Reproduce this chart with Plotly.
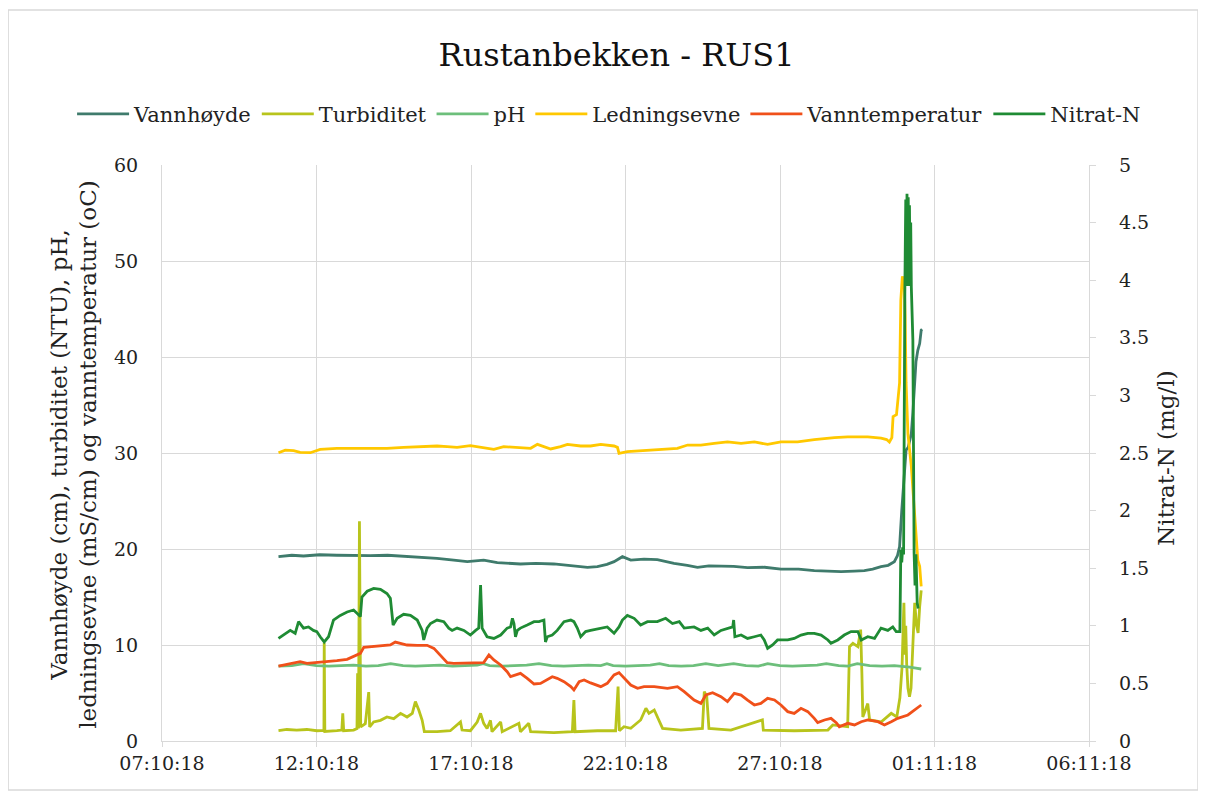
import pandas as pd
import plotly.graph_objects as go

# Time values are given as fractional day-of-October (32.0 = 1 Nov 00:00)
t_vann = [10.77, 11.2, 11.58, 12.1, 12.66, 13.2, 13.74, 14.3, 14.82, 15.36, 15.9, 16.44, 16.88, 17.41,
          17.85, 18.6, 19.1, 19.68, 20.44, 20.77, 21.09, 21.4, 21.63, 21.9, 22.17, 22.6, 23.03, 23.57,
          24.0, 24.33, 24.7, 25.09, 25.5, 25.95, 26.5, 27.03, 27.6, 28.11, 28.5, 28.98, 29.4, 29.73,
          30.0, 30.27, 30.5, 30.7, 30.8, 30.87, 30.94, 31.0, 31.05, 31.08, 31.15, 31.25, 31.3, 31.35,
          31.4, 31.46, 31.52, 31.57, 31.6]
v_vann = [19.2, 19.35, 19.27, 19.4, 19.35, 19.3, 19.3, 19.35, 19.25, 19.2, 19.03, 18.85, 18.68, 18.85,
          18.58, 18.44, 18.5, 18.44, 18.23, 18.09, 18.16, 18.4, 18.68, 19.2, 18.85, 18.95, 18.9, 18.5,
          18.3, 18.09, 18.25, 18.23, 18.2, 18.05, 18.1, 17.9, 17.9, 17.74, 17.7, 17.64, 17.7, 17.74,
          17.9, 18.16, 18.3, 18.68, 19.3, 20.24, 24.0, 26.5, 29.0, 30.3, 30.6, 32.0, 34.2, 37.5,
          39.5, 40.7, 41.4, 42.8, 42.9]

t_turb = [10.77, 11.04, 11.36, 11.69, 12.01, 12.18, 12.24, 12.25, 12.27, 12.66, 12.82, 12.85, 12.88,
          13.2, 13.31, 13.33, 13.36, 13.39, 13.43, 13.58, 13.69, 13.72, 13.85, 14.07, 14.28, 14.5,
          14.72, 14.93, 15.1, 15.2, 15.31, 15.42, 15.49, 15.9, 16.33, 16.66, 16.71, 16.98, 17.2, 17.31,
          17.41, 17.52, 17.63, 17.68, 17.96, 18.01, 18.55, 18.6, 18.87, 18.93, 19.68, 20.28, 20.33,
          20.37, 20.87, 21.09, 21.68, 21.76, 21.8, 21.95, 22.17, 22.49, 22.66, 22.76, 22.93, 23.09,
          23.2, 23.79, 24.49, 24.55, 24.63, 24.7, 25.41, 26.43, 26.46, 27.46, 28.55, 28.71, 29.19,
          29.25, 29.36, 29.52, 29.61, 29.65, 29.68, 29.84, 29.9, 30.27, 30.6, 30.78, 30.88, 30.95,
          30.98, 31.01, 31.04, 31.07, 31.1, 31.14, 31.19, 31.24, 31.3, 31.36, 31.42, 31.47, 31.52, 31.57]
v_turb = [1.07, 1.2, 1.14, 1.2, 1.07, 1.14, 1.1, 10.2, 1.0, 1.07, 1.14, 2.88, 1.07,
          1.14, 1.3, 7.05, 1.3, 22.9, 1.46, 1.8, 5.1, 1.46, 1.98, 2.15, 2.5, 2.33,
          2.88, 2.5, 2.88, 4.1, 3.23, 2.15, 0.97, 0.97, 1.07, 1.98, 1.14, 1.07, 1.98, 2.88,
          1.84, 1.3, 2.15, 0.97, 1.98, 0.97, 1.84, 0.97, 1.84, 0.97, 0.87, 0.97, 4.27,
          0.97, 1.07, 1.07, 1.07, 5.66, 1.07, 1.49, 1.32, 2.19, 3.4, 2.88, 3.23, 2.19,
          1.32, 1.14, 1.32, 5.14, 4.62, 1.32, 1.14, 2.19, 1.14, 1.07, 1.14, 1.67, 1.49,
          9.83, 10.17, 9.83, 11.6, 7.05, 2.5, 3.9, 2.19, 1.98, 2.88, 2.5, 4.5, 7.7,
          11.5, 14.4, 9.0, 12.0, 8.0, 5.5, 4.6, 5.5, 10.0, 14.4, 12.0, 11.25, 14.0, 15.7]

t_ph = [10.77, 11.2, 11.58, 12.0, 12.4, 12.8, 13.2, 13.6, 14.0, 14.4, 14.8, 15.2, 15.6, 16.0, 16.4,
        16.8, 17.2, 17.4, 17.6, 18.0, 18.4, 18.8, 19.2, 19.6, 20.0, 20.4, 20.8, 21.2, 21.4, 21.6,
        22.0, 22.4, 22.8, 23.1, 23.4, 23.8, 24.2, 24.6, 25.0, 25.5, 25.9, 26.3, 26.6, 27.0, 27.4,
        27.8, 28.2, 28.5, 28.9, 29.2, 29.5, 29.9, 30.3, 30.7, 31.0, 31.2, 31.4, 31.57]
v_ph = [7.8, 7.85, 8.05, 7.85, 7.8, 7.85, 7.9, 7.8, 7.85, 8.05, 7.85, 7.8, 7.85, 7.9, 7.8,
        7.85, 7.9, 8.05, 7.85, 7.8, 7.85, 7.9, 8.05, 7.85, 7.8, 7.85, 7.9, 7.85, 8.05, 7.85,
        7.8, 7.85, 7.9, 8.05, 7.85, 7.8, 7.85, 8.05, 7.85, 8.05, 7.85, 7.8, 8.05, 7.85, 7.8,
        7.85, 7.9, 8.05, 7.85, 7.8, 8.05, 7.85, 7.8, 7.85, 7.8, 7.7, 7.6, 7.5]

t_led = [10.77, 10.99, 11.26, 11.47, 11.8, 12.12, 12.66, 13.2, 13.74, 14.28, 14.82, 15.36, 15.9,
         16.23, 16.55, 16.98, 17.41, 17.74, 18.06, 18.5, 18.93, 19.15, 19.36, 19.58, 19.9, 20.12,
         20.55, 20.87, 21.2, 21.63, 21.74, 21.79, 22.06, 22.71, 23.25, 23.68, 24.01, 24.44, 24.87,
         25.3, 25.74, 26.17, 26.6, 27.03, 27.57, 28.11, 28.76, 29.19, 29.84, 30.27, 30.45, 30.54,
         30.62, 30.66, 30.77, 30.87, 30.91, 30.96, 31.02, 31.05, 31.08, 31.14, 31.25, 31.35, 31.46,
         31.52, 31.57]
v_led = [30.03, 30.3, 30.24, 30.07, 30.03, 30.38, 30.49, 30.49, 30.49, 30.49, 30.59, 30.66, 30.73,
         30.66, 30.59, 30.76, 30.59, 30.38, 30.66, 30.59, 30.49, 30.9, 30.66, 30.42, 30.66, 30.9,
         30.73, 30.73, 30.9, 30.73, 30.59, 29.97, 30.14, 30.3, 30.38, 30.49, 30.83, 30.83, 31.0,
         31.15, 31.0, 31.15, 30.9, 31.15, 31.15, 31.4, 31.6, 31.67, 31.67, 31.55, 31.4, 31.15,
         31.6, 33.8, 34.0, 37.3, 45.9, 48.4, 47.7, 44.2, 37.3, 32.0, 28.6, 23.4, 18.85,
         18.2, 16.1]

t_temp = [10.77, 11.15, 11.47, 11.69, 12.01, 12.34, 12.66, 12.99, 13.2, 13.42, 13.53, 13.85, 14.17,
          14.39, 14.55, 14.72, 14.93, 15.26, 15.58, 15.8, 16.01, 16.23, 16.44, 16.98, 17.41, 17.58,
          17.74, 17.96, 18.17, 18.28, 18.44, 18.6, 18.82, 19.04, 19.25, 19.47, 19.63, 19.79, 20.01,
          20.23, 20.33, 20.5, 20.66, 20.87, 21.2, 21.41, 21.63, 21.79, 21.95, 22.17, 22.39, 22.6,
          22.93, 23.36, 23.68, 23.9, 24.22, 24.44, 24.6, 24.82, 25.09, 25.3, 25.52, 25.74, 25.95,
          26.17, 26.38, 26.6, 26.82, 27.03, 27.25, 27.46, 27.68, 27.9, 28.11, 28.22, 28.44, 28.65,
          28.82, 28.92, 29.19, 29.41, 29.63, 29.84, 30.17, 30.38, 30.6, 30.81, 31.14, 31.35, 31.57]
v_temp = [7.81, 8.02, 8.26, 8.09, 8.16, 8.26, 8.37, 8.51, 8.85, 9.13, 9.76, 9.83, 9.9,
          10.0, 10.31, 10.17, 10.0, 9.97, 9.97, 9.65, 8.96, 8.16, 8.09, 8.16, 8.16, 8.96,
          8.44, 7.92, 7.22, 6.7, 6.88, 7.05, 6.53, 5.94, 6.0, 6.42, 6.7, 6.53, 6.18,
          5.66, 5.31, 6.18, 6.35, 6.05, 5.66, 6.01, 6.88, 7.12, 6.53, 5.83, 5.49, 5.66,
          5.66, 5.49, 5.66, 5.14, 4.27, 3.92, 4.79, 5.03, 4.62, 4.1, 4.97, 4.79, 4.27,
          3.75, 3.92, 4.44, 4.27, 3.75, 3.06, 2.88, 3.4, 3.06, 2.36, 1.91, 2.19, 2.36,
          1.91, 1.49, 1.84, 1.67, 2.01, 2.19, 2.01, 1.67, 2.01, 2.36, 2.71, 3.23, 3.75]

t_nitrat = [10.77, 10.93, 11.15, 11.31, 11.42, 11.58, 11.74, 11.9, 12.01, 12.12, 12.25, 12.39, 12.55,
            12.77, 12.99, 13.2, 13.36, 13.42, 13.47, 13.64, 13.85, 14.07, 14.28, 14.39, 14.48, 14.61,
            14.82, 15.04, 15.26, 15.42, 15.47, 15.58, 15.69, 15.9, 16.12, 16.28, 16.39, 16.55, 16.77,
            16.98, 17.15, 17.25, 17.31, 17.36, 17.52, 17.74, 17.96, 18.17, 18.28, 18.34, 18.39, 18.44,
            18.5, 18.6, 18.82, 19.04, 19.2, 19.31, 19.36, 19.41, 19.47, 19.63, 19.79, 20.01, 20.23,
            20.33, 20.44, 20.55, 20.71, 20.87, 21.2, 21.41, 21.63, 21.79, 21.9, 22.06, 22.28, 22.49,
            22.71, 23.03, 23.3, 23.52, 23.74, 23.9, 24.22, 24.44, 24.66, 24.87, 25.09, 25.3, 25.47,
            25.5, 25.54, 25.74, 25.95, 26.17, 26.38, 26.49, 26.6, 26.76, 26.92, 27.25, 27.46, 27.68,
            27.9, 28.11, 28.33, 28.55, 28.65, 28.87, 29.08, 29.3, 29.52, 29.63, 29.84, 30.06, 30.17,
            30.27, 30.49, 30.65, 30.76, 30.88, 30.91, 30.94, 30.97, 31.0, 31.04, 31.07, 31.09, 31.11,
            31.13, 31.15, 31.17, 31.19, 31.21, 31.23, 31.25, 31.3, 31.34, 31.37, 31.4, 31.44, 31.47]
v_nitrat = [0.89, 0.92, 0.96, 0.935, 1.036, 0.98, 0.99, 0.96, 0.95, 0.905, 0.86, 0.905, 1.05,
            1.09, 1.12, 1.137, 1.09, 1.08, 1.25, 1.3, 1.325, 1.317, 1.28, 1.24, 1.007, 1.065,
            1.1, 1.09, 1.05, 0.96, 0.877, 0.98, 1.02, 1.05, 1.036, 0.98, 0.96, 0.98, 0.96,
            0.92, 0.96, 0.98, 1.354, 0.98, 0.905, 0.89, 0.92, 0.98, 0.99, 1.065, 1.02, 0.905,
            0.96, 0.98, 1.007, 1.036, 1.036, 1.05, 1.05, 0.86, 0.905, 0.92, 0.96, 1.036, 1.05,
            1.036, 0.98, 0.905, 0.95, 0.96, 0.98, 0.99, 0.935, 0.99, 1.05, 1.09, 1.065, 1.007,
            1.036, 1.036, 1.065, 1.02, 1.036, 0.98, 0.99, 0.96, 0.98, 0.92, 0.96, 0.98, 0.99,
            1.05, 0.905, 0.92, 0.89, 0.905, 0.92, 0.877, 0.805, 0.834, 0.877, 0.877, 0.89, 0.92,
            0.935, 0.935, 0.92, 0.877, 0.848, 0.877, 0.92, 0.95, 0.95, 0.877, 0.905, 0.89, 0.935,
            0.98, 0.96, 0.99, 0.95, 0.95, 1.66, 1.55, 1.68, 1.62, 3.9, 4.7, 3.95, 4.75,
            4.0, 4.72, 3.95, 4.65, 4.0, 4.5, 3.94, 3.48, 1.63, 1.35, 1.62, 1.2, 1.15]

x_ticks = ["2018-10-07", "2018-10-12", "2018-10-17", "2018-10-22", "2018-10-27", "2018-11-01", "2018-11-06"]
tick_labels = ["07:10:18", "12:10:18", "17:10:18", "22:10:18", "27:10:18", "01:11:18", "06:11:18"]

title_text = "Rustanbekken - RUS1"
y_title_1 = "Vannhøyde (cm), turbiditet (NTU), pH,"
y_title_2 = "ledningsevne (mS/cm) og vanntemperatur (oC)"
y2_title = "Nitrat-N (mg/l)"

base = pd.Timestamp("2018-09-30")


def to_time(days):
    return base + pd.to_timedelta(pd.Series(days), unit="D")


series = [
    ("Vannhøyde", t_vann, v_vann, "#3f7b6c", "y"),
    ("Turbiditet", t_turb, v_turb, "#b8c41c", "y"),
    ("pH", t_ph, v_ph, "#6dbf7b", "y"),
    ("Ledningsevne", t_led, v_led, "#ffc800", "y"),
    ("Vanntemperatur", t_temp, v_temp, "#f0501a", "y"),
    ("Nitrat-N", t_nitrat, v_nitrat, "#1f8b34", "y2"),
]

fig = go.Figure()
for name, t, v, col, ax in series:
    fig.add_trace(go.Scatter(x=to_time(t), y=v, name=name, mode="lines",
                             line=dict(color=col, width=2.8), yaxis=ax))

FONT = "Georgia, 'DejaVu Serif', serif"
grid = "#d9d9d9"
TXT = "#222222"

# The page body adds an 8px offset, so the figure is 1198x788 and margins compensate.
fig.update_layout(
    width=1198, height=788,
    margin=dict(l=154, r=117, t=157, b=55, autoexpand=False),
    paper_bgcolor="white", plot_bgcolor="white",
    font=dict(family=FONT, color=TXT, size=19),
    title=dict(text=title_text, x=0.508, xanchor="center", y=0.940, yanchor="middle",
               yref="container", font=dict(size=32, family=FONT, color="#111111")),
    legend=dict(orientation="h", x=-0.097, xanchor="left", y=1.088, yanchor="middle",
                font=dict(size=21, family=FONT), itemwidth=52, traceorder="normal"),
    showlegend=True,
    xaxis=dict(type="date", range=[x_ticks[0], x_ticks[-1]], tickvals=x_ticks, ticktext=tick_labels,
               showgrid=True, gridcolor=grid, gridwidth=1.2, showline=True, linecolor=grid,
               linewidth=1.2, ticks="outside", tickcolor=grid, ticklen=5, zeroline=False,
               tickfont=dict(size=19), automargin=False),
    yaxis=dict(range=[0, 60], dtick=10, showgrid=True, gridcolor=grid, gridwidth=1.2,
               zeroline=False, showline=True, linecolor=grid, linewidth=1.2, ticks="",
               ticklabelstandoff=19, tickfont=dict(size=19), automargin=False),
    yaxis2=dict(range=[0, 5], dtick=0.5, overlaying="y", side="right", showgrid=False,
                zeroline=False, showline=True, linecolor=grid, linewidth=1.2, ticks="outside",
                tickcolor=grid, ticklen=6, ticklabelstandoff=19, tickfont=dict(size=19),
                automargin=False),
)

# axis titles (two-line left title kept as real text)
for txt, xp in [(y_title_1, -0.1111), (y_title_2, -0.0798)]:
    fig.add_annotation(text=txt, xref="paper", yref="paper", x=xp, y=0.497, textangle=-90,
                       showarrow=False, xanchor="center", yanchor="middle",
                       font=dict(size=23, family=FONT, color=TXT))
fig.add_annotation(text=y2_title, xref="paper", yref="paper", x=1.0831, y=0.49, textangle=-90,
                   showarrow=False, xanchor="center", yanchor="middle",
                   font=dict(size=23, family=FONT, color=TXT))

fig.add_shape(type="rect", xref="paper", yref="paper", x0=-0.166, x1=1.1176, y0=-0.085, y1=1.269,
              line=dict(color="#d9d9d9", width=1.5), fillcolor="rgba(0,0,0,0)", layer="below")

fig.write_html("out.html")
